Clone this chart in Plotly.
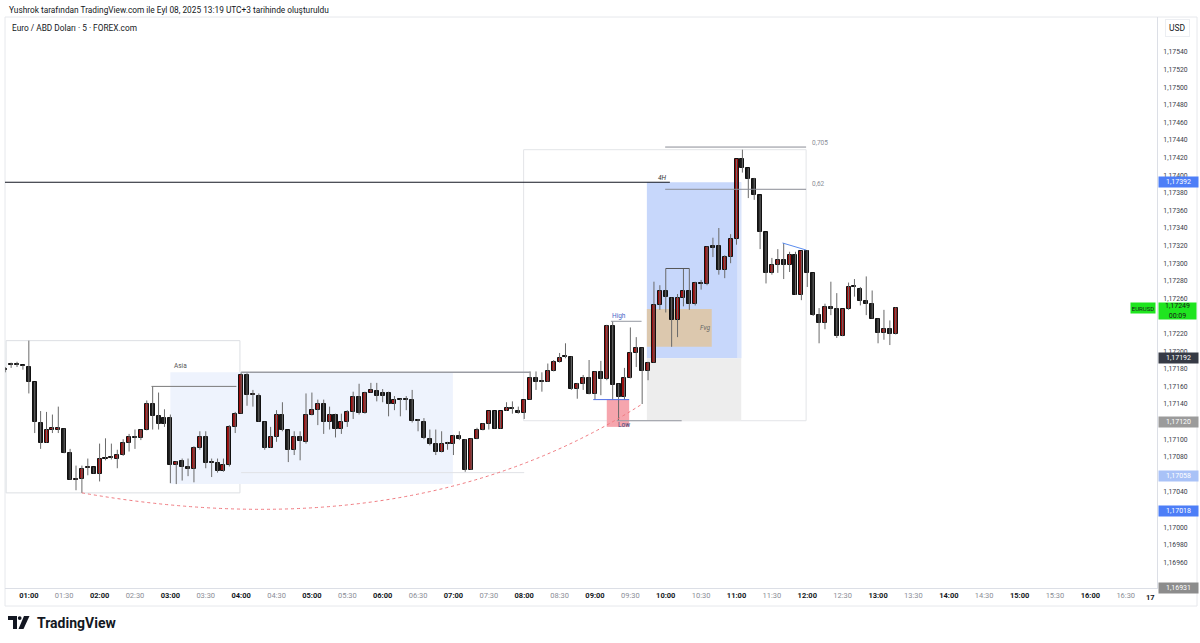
import plotly.graph_objects as go

# ---------------- data (EUR/USD, 5-minute bars from 00:40) ----------------
opens = [
1.17180,1.17184,1.17185,1.17184,1.17182,1.17165,1.17118,1.17096,1.17111,1.17111,
1.17112,1.17084,1.17054,1.17055,1.17067,1.17068,1.17061,1.17078,1.17079,1.17078,
1.17082,1.17096,1.17103,1.17101,1.17110,1.17140,1.17126,1.17124,1.17124,1.17071,
1.17075,1.17068,1.17066,1.17090,1.17102,1.17073,1.17073,1.17064,1.17071,1.17114,
1.17129,1.17173,1.17150,1.17149,1.17120,1.17090,1.17103,1.17128,1.17110,1.17088,
1.17103,1.17097,1.17128,1.17133,1.17140,1.17119,1.17127,1.17112,1.17119,1.17131,
1.17148,1.17130,1.17153,1.17155,1.17153,1.17153,1.17140,1.17145,1.17145,1.17144,
1.17121,1.17120,1.17100,1.17095,1.17086,1.17095,1.17095,1.17104,1.17099,1.17065,
1.17100,1.17110,1.17117,1.17132,1.17112,1.17132,1.17134,1.17132,1.17130,1.17145,
1.17170,1.17165,1.17165,1.17177,1.17188,1.17193,1.17193,1.17157,1.17163,1.17170,
1.17151,1.17176,1.17168,1.17229,1.17163,1.17148,1.17169,1.17198,1.17204,1.17178,
1.17187,1.17252,1.17268,1.17261,1.17235,1.17261,1.17268,1.17254,1.17278,1.17276,
1.17319,1.17319,1.17292,1.17307,1.17328,1.17418,1.17408,1.17396,1.17377,1.17335,
1.17289,1.17298,1.17304,1.17298,1.17309,1.17264,1.17314,1.17289,1.17241,1.17232,
1.17250,1.17248,1.17217,1.17248,1.17273,1.17271,1.17257,1.17254,1.17237,1.17221,
1.17225,1.17219]

highs = [
1.17182,1.17187,1.17188,1.17184,1.17212,1.17165,1.17132,1.17131,1.17128,1.17137,
1.17112,1.17089,1.17070,1.17070,1.17078,1.17068,1.17095,1.17101,1.17095,1.17088,
1.17100,1.17106,1.17111,1.17111,1.17144,1.17160,1.17153,1.17134,1.17128,1.17075,
1.17078,1.17078,1.17092,1.17109,1.17109,1.17078,1.17078,1.17078,1.17116,1.17131,
1.17176,1.17175,1.17156,1.17152,1.17120,1.17114,1.17133,1.17142,1.17110,1.17109,
1.17109,1.17152,1.17153,1.17145,1.17145,1.17137,1.17129,1.17129,1.17133,1.17154,
1.17163,1.17154,1.17164,1.17164,1.17157,1.17154,1.17149,1.17146,1.17149,1.17156,
1.17123,1.17124,1.17111,1.17111,1.17109,1.17097,1.17105,1.17109,1.17100,1.17101,
1.17113,1.17118,1.17132,1.17132,1.17132,1.17142,1.17143,1.17137,1.17145,1.17177,
1.17177,1.17176,1.17186,1.17190,1.17198,1.17209,1.17194,1.17164,1.17173,1.17190,
1.17177,1.17189,1.17230,1.17234,1.17163,1.17181,1.17227,1.17216,1.17204,1.17188,
1.17279,1.17275,1.17294,1.17261,1.17265,1.17294,1.17294,1.17279,1.17281,1.17319,
1.17329,1.17340,1.17309,1.17333,1.17418,1.17429,1.17408,1.17397,1.17377,1.17335,
1.17306,1.17316,1.17323,1.17313,1.17313,1.17314,1.17315,1.17289,1.17249,1.17254,
1.17279,1.17266,1.17248,1.17278,1.17282,1.17273,1.17285,1.17269,1.17237,1.17247,
1.17235,1.17250]

lows = [
1.17176,1.17181,1.17182,1.17179,1.17152,1.17107,1.17089,1.17096,1.17107,1.17107,
1.17084,1.17054,1.17042,1.17039,1.17059,1.17061,1.17052,1.17076,1.17077,1.17067,
1.17081,1.17086,1.17089,1.17099,1.17110,1.17111,1.17111,1.17114,1.17050,1.17049,
1.17053,1.17058,1.17051,1.17088,1.17067,1.17057,1.17062,1.17063,1.17069,1.17107,
1.17129,1.17138,1.17137,1.17120,1.17088,1.17090,1.17097,1.17109,1.17074,1.17082,
1.17076,1.17095,1.17127,1.17116,1.17106,1.17111,1.17102,1.17106,1.17114,1.17123,
1.17128,1.17129,1.17153,1.17143,1.17142,1.17126,1.17133,1.17126,1.17133,1.17119,
1.17109,1.17100,1.17093,1.17082,1.17085,1.17088,1.17082,1.17099,1.17063,1.17065,
1.17100,1.17110,1.17111,1.17112,1.17112,1.17132,1.17129,1.17129,1.17123,1.17145,
1.17156,1.17154,1.17165,1.17177,1.17187,1.17192,1.17156,1.17146,1.17156,1.17151,
1.17145,1.17150,1.17167,1.17145,1.17121,1.17145,1.17169,1.17182,1.17140,1.17167,
1.17187,1.17247,1.17244,1.17205,1.17216,1.17251,1.17247,1.17252,1.17270,1.17275,
1.17307,1.17287,1.17283,1.17300,1.17321,1.17403,1.17374,1.17372,1.17316,1.17277,
1.17287,1.17289,1.17282,1.17290,1.17264,1.17258,1.17273,1.17240,1.17209,1.17225,
1.17241,1.17215,1.17217,1.17247,1.17262,1.17252,1.17241,1.17237,1.17209,1.17213,
1.17207,1.17219]

closes = [
1.17179,1.17184,1.17184,1.17183,1.17165,1.17119,1.17096,1.17111,1.17112,1.17112,
1.17084,1.17054,1.17055,1.17066,1.17068,1.17061,1.17078,1.17079,1.17080,1.17082,
1.17096,1.17103,1.17101,1.17110,1.17140,1.17126,1.17117,1.17117,1.17071,1.17074,
1.17068,1.17066,1.17090,1.17102,1.17073,1.17073,1.17064,1.17071,1.17114,1.17129,
1.17173,1.17150,1.17151,1.17120,1.17090,1.17103,1.17128,1.17110,1.17088,1.17103,
1.17098,1.17127,1.17133,1.17140,1.17119,1.17127,1.17112,1.17119,1.17131,1.17148,
1.17130,1.17153,1.17156,1.17149,1.17149,1.17140,1.17144,1.17145,1.17145,1.17121,
1.17121,1.17101,1.17095,1.17086,1.17095,1.17095,1.17104,1.17100,1.17065,1.17100,
1.17110,1.17117,1.17132,1.17112,1.17132,1.17135,1.17134,1.17130,1.17145,1.17170,
1.17165,1.17165,1.17177,1.17188,1.17192,1.17193,1.17157,1.17163,1.17169,1.17151,
1.17176,1.17168,1.17229,1.17162,1.17148,1.17169,1.17198,1.17204,1.17178,1.17187,
1.17252,1.17268,1.17262,1.17235,1.17261,1.17268,1.17254,1.17277,1.17276,1.17318,
1.17317,1.17292,1.17307,1.17328,1.17418,1.17408,1.17396,1.17377,1.17336,1.17289,
1.17298,1.17304,1.17298,1.17309,1.17264,1.17314,1.17289,1.17241,1.17232,1.17250,
1.17248,1.17217,1.17248,1.17273,1.17273,1.17257,1.17254,1.17237,1.17221,1.17225,
1.17219,1.17249]

assert len(opens) == len(highs) == len(lows) == len(closes) == 152

# time axis (bar index 0 = 00:40, 6 bars per half hour)
tick_labels = ["01:00", "01:30", "02:00", "02:30", "03:00", "03:30", "04:00", "04:30",
               "05:00", "05:30", "06:00", "06:30", "07:00", "07:30", "08:00", "08:30",
               "09:00", "09:30", "10:00", "10:30", "11:00", "11:30", "12:00", "12:30",
               "13:00", "13:30", "14:00", "14:30", "15:00", "15:30", "16:00", "16:30"]
tick_bars = [4 + 6 * k for k in range(len(tick_labels))]

# price-axis tick labels (those hidden behind tags are left out)
price_ticks = [1.17540, 1.17520, 1.17500, 1.17480, 1.17460, 1.17440, 1.17420, 1.17400,
               1.17380, 1.17360, 1.17340, 1.17320, 1.17300, 1.17280, 1.17260, 1.17220,
               1.17200, 1.17180, 1.17160, 1.17140, 1.17100, 1.17080, 1.17040, 1.17000,
               1.16980, 1.16960]

# price-axis tags
tag_prices = [1.17392, 1.17192, 1.17120, 1.17058, 1.17018, 1.16931]
tag_colors = ["#4d7ef7", "#363a45", "#9b9b9b", "#a9c2f7", "#4d7ef7", "#8c8c8c"]
last_price = 1.17249
countdown = "00:09"

# ---------------- figure ----------------
N = len(opens)
idx = list(range(N))
RED, BLACK = "#9c0c0c", "#1b1b1b"
colors = [RED if c > o else BLACK for o, c in zip(opens, closes)]

wx, wy = [], []
for i in idx:
    wx += [i, i, None]
    wy += [lows[i], highs[i], None]

fig = go.Figure()
fig.add_trace(go.Scatter(x=wx, y=wy, mode="lines", line=dict(color="#6a6a6a", width=1),
                         hoverinfo="skip", showlegend=False))
fig.add_trace(go.Bar(x=idx, base=[min(o, c) for o, c in zip(opens, closes)],
                     y=[max(abs(c - o), 0.000012) for o, c in zip(opens, closes)],
                     width=0.68, marker=dict(color=colors, line=dict(color="#111111", width=1)),
                     showlegend=False, hoverinfo="skip"))

L, R, T, B = 5, 1157, 17, 588
def px_x(px):
    return (px - L) / (R - L)
def px_y(py):
    return (B - py) / (B - T)

shapes = []
def rect(x0, x1, y0, y1, fill=None, line=None, lw=1, layer="below"):
    shapes.append(dict(type="rect", xref="x", yref="y", x0=x0, x1=x1, y0=y0, y1=y1,
                       fillcolor=fill if fill else "rgba(0,0,0,0)",
                       line=dict(color=line if line else "rgba(0,0,0,0)", width=lw if line else 0),
                       layer=layer))
def hline(x0, x1, y0, y1, color, lw=1, dash="solid", layer="above"):
    shapes.append(dict(type="line", xref="x", yref="y", x0=x0, x1=x1, y0=y0, y1=y1,
                       line=dict(color=color, width=lw, dash=dash), layer=layer))

# boxes
rect(0.15, 39.8, 1.17039, 1.17212, line="#dcdfe3")              # left range box
rect(28, 75.9, 1.17049, 1.17176, fill="#eef3fd")                  # Asia box
rect(87.9, 135.8, 1.17121, 1.17429, line="#e3e5e8")              # big outline box
rect(108.8, 124.8, 1.17192, 1.17392, fill="#c7d7fb")             # blue zone
rect(124.1, 124.8, 1.17192, 1.17392, fill="#dbe5fb")
rect(108.8, 124.8, 1.17121, 1.17192, fill="#ededed")             # gray zone
rect(108.8, 119.8, 1.17205, 1.17248, fill="#dcc8ae")             # Fvg
rect(102.0, 105.8, 1.17114, 1.17145, fill="#f6a5ad")             # pink

# lines
hline(-1, 112.7, 1.17392, 1.17392, "#131722")                      # 4H
hline(111.9, 135.8, 1.17432, 1.17432, "#8a8d96")                   # 0,705
hline(111.9, 135.8, 1.17384, 1.17384, "#8a8d96")                   # 0,62
hline(24.8, 39.2, 1.17160, 1.17160, "#7a7a7a")
hline(40, 89, 1.17176, 1.17176, "#9a9ca3", lw=1.5)
hline(40, 88, 1.17062, 1.17062, "#e0e2e6")
hline(112, 116, 1.17294, 1.17294, "#555555")
hline(131.8, 135.8, 1.17323, 1.17315, "#5b8def")
hline(99.7, 105.8, 1.17145, 1.17145, "#4f6fe8")
hline(102.7, 107.9, 1.17234, 1.17234, "#9598a1")
hline(103.7, 114.7, 1.17121, 1.17121, "#9598a1")

# curved dotted line (quadratic curve from low to low)
curve_pts = [(13, 1.17039), (69, 1.16973), (108, 1.17140)]
shapes.append(dict(type="path", xref="x", yref="y",
                   path="M %s,%s Q %s,%s %s,%s" % (curve_pts[0] + curve_pts[1] + curve_pts[2]),
                   line=dict(color="#f07a80", width=1, dash="dot"), layer="above"))

# outer frame
shapes.append(dict(type="rect", xref="paper", yref="paper", x0=px_x(5), x1=px_x(1197),
                   y0=px_y(606), y1=px_y(17), line=dict(color="#e6e8ec", width=1), layer="below"))

# TradingView logo icon
shapes.append(dict(type="path", xref="paper", yref="paper",
                   path="M %f,%f L %f,%f L %f,%f L %f,%f L %f,%f L %f,%f Z" % (
                       px_x(8), px_y(616), px_x(17), px_y(616), px_x(17), px_y(629),
                       px_x(13), px_y(629), px_x(13), px_y(620), px_x(8), px_y(620)),
                   fillcolor="#131722", line=dict(width=0)))
shapes.append(dict(type="circle", xref="paper", yref="paper", x0=px_x(17.8), x1=px_x(21.6),
                   y0=px_y(620), y1=px_y(616.2), fillcolor="#131722", line=dict(width=0)))
shapes.append(dict(type="path", xref="paper", yref="paper",
                   path="M %f,%f L %f,%f L %f,%f L %f,%f Z" % (
                       px_x(24), px_y(616), px_x(29.5), px_y(616), px_x(23.5), px_y(629),
                       px_x(18.5), px_y(629)),
                   fillcolor="#131722", line=dict(width=0)))

ann = []
def txt(x, y, s, size=6.5, color="#555", xanchor="center", yanchor="middle", xref="x", yref="y", **kw):
    ann.append(dict(x=x, y=y, xref=xref, yref=yref, text=s, showarrow=False,
                    font=dict(size=size, color=color, family="Roboto"),
                    xanchor=xanchor, yanchor=yanchor, **kw))

txt(29.8, 1.17183, "Asia", color="#555")
txt(111.5, 1.17392, "<i>4H</i>", color="#333", yanchor="bottom", yshift=-2)
txt(104.1, 1.17240, "High", color="#4a67c8")
txt(104.9, 1.17116, "Low", color="#38457a")
txt(118.6, 1.17226, "<i>Fvg</i>", color="#666")
txt(136.4, 1.17437, "0,705", size=6.5, color="#8a8d96", xanchor="left")
txt(136.4, 1.17390, "0,62", size=6.5, color="#8a8d96", xanchor="left")

# header
txt(px_x(7), px_y(10), "Yushrok tarafından TradingView.com ile Eyl 08, 2025 13:19 UTC+3 tarihinde oluşturuldu",
    size=8.3, color="#131722", xanchor="left", xref="paper", yref="paper")
txt(px_x(10), px_y(28), "Euro / ABD Doları · 5 · FOREX.com", size=8.3, color="#131722",
    xanchor="left", xref="paper", yref="paper")
txt(px_x(1177), px_y(28), "USD", size=8.5, color="#131722", xref="paper", yref="paper",
    bordercolor="#eceef2", borderwidth=1, borderpad=3)
txt(px_x(35), px_y(623), "<b>TradingView</b>", size=14, color="#131722", xanchor="left",
    xref="paper", yref="paper")
txt(px_x(1157), px_y(597), "<b>17</b>", size=7.5, color="#131722", xanchor="right",
    xref="paper", yref="paper")

# axis tags
for p, c in zip(tag_prices, tag_colors):
    txt(px_x(1158), p, ("%.5f" % p).replace(".", ","), size=7, color="#ffffff", xanchor="left",
        xref="paper", bgcolor=c, width=37, height=8, borderpad=1)
txt(px_x(1158), last_price, ("%.5f" % last_price).replace(".", ",") + "<br>" + countdown, size=7,
    color="#1a1a1a", xanchor="left", xref="paper", bgcolor="#1fe51f", width=37, height=16,
    borderpad=0, yshift=-3)
txt(px_x(1156), last_price, "EURUSD", size=6, color="#1a1a1a", xanchor="right", xref="paper",
    bgcolor="#1fe51f", width=22, height=8, borderpad=1)

tick_text = [("<b>%s</b>" % t) if t.endswith(":00") else
             ("<span style='color:#8a8d96'>%s</span>" % t) for t in tick_labels]

fig.update_layout(
    width=1200, height=643, margin=dict(l=L, r=1200 - R, t=T, b=643 - B),
    paper_bgcolor="white", plot_bgcolor="white", separators=", ",
    barmode="overlay", bargap=0, showlegend=False,
    font=dict(family="Roboto", color="#131722"),
    shapes=shapes, annotations=ann,
    xaxis=dict(range=[-0.04, 195.3], tickmode="array", tickvals=tick_bars, ticktext=tick_text,
               tickfont=dict(size=7.5, color="#131722"), showgrid=False, zeroline=False,
               showline=True, linecolor="#dcdfe6", linewidth=1, ticks="", fixedrange=True),
    yaxis=dict(range=[1.169309, 1.175798], side="right", tickmode="array",
               tickvals=price_ticks,
               tickformat=".5f", tickfont=dict(size=6.8, color="#3a3e4a"), showgrid=False,
               zeroline=False, showline=True, linecolor="#dcdfe6", linewidth=1,
               ticks="outside", ticklen=4, tickcolor="rgba(0,0,0,0)"),
)

fig.write_html("out.html")
